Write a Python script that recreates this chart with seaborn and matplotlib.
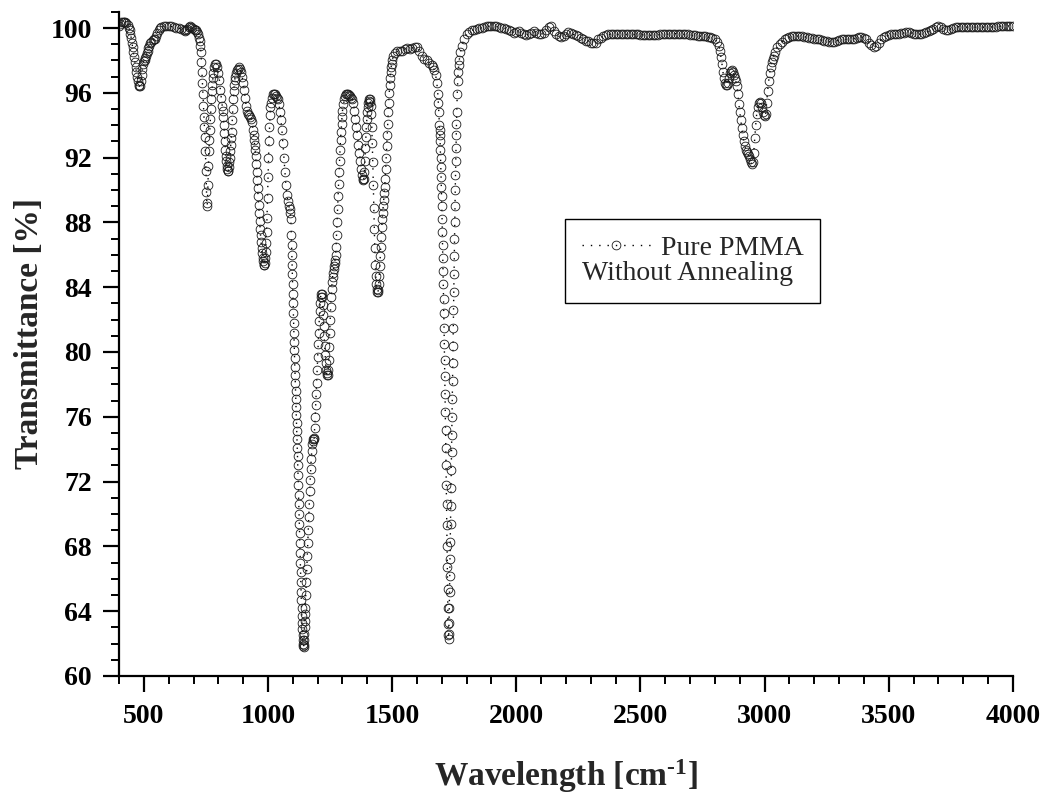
import numpy as np
import pandas as pd
import matplotlib
matplotlib.use("Agg")
import matplotlib.pyplot as plt
from matplotlib.ticker import MultipleLocator
import seaborn as sns

# FTIR spectrum of pure PMMA (no annealing)
# 400-720 cm-1
wn_far = [400, 405, 410, 415, 420, 425, 430, 435, 440, 443, 446, 449, 452, 455,
          458, 461, 464, 467, 470, 473, 476, 479, 482, 485, 488, 491, 494, 497,
          500, 503, 506, 509, 512, 515, 518, 521, 525, 530, 535, 540, 545, 550,
          555, 560, 565, 570, 580, 590, 600, 610, 620, 630, 640, 650, 660, 665,
          670, 675, 680, 685, 690, 695, 700, 705, 710, 715, 720]
t_far = [100.1, 100.25, 100.35, 100.4, 100.4, 100.4, 100.3, 100.2, 100.0, 99.85,
         99.65, 99.4, 99.1, 98.8, 98.5, 98.2, 97.9, 97.6, 97.3, 97.0, 96.7, 96.5,
         96.4, 96.45, 96.7, 97.1, 97.5, 97.8, 97.95, 98.05, 98.15, 98.3, 98.45,
         98.6, 98.75, 98.9, 99.05, 99.15, 99.25, 99.3, 99.35, 99.5, 99.7, 99.85,
         100.0, 100.05, 100.1, 100.1, 100.1, 100.1, 100.05, 100.0, 100.0, 99.95,
         99.85, 99.8, 99.85, 99.95, 100.05, 100.1, 100.05, 100.0, 99.95, 99.9,
         99.85, 99.75, 99.6]

# 724-1500 cm-1 (fingerprint region)
wn_finger = [724, 726, 728, 730, 732, 734, 736, 738, 740, 742, 744, 746, 748, 750,
             752, 754, 756, 758, 760, 762, 764, 766, 768, 770, 772, 774, 776, 778,
             780, 784, 788, 792, 796, 800, 804, 808, 812, 816, 818, 820, 822, 824,
             826, 828, 830, 832, 834, 836, 838, 840, 842, 844, 846, 848, 850, 852,
             854, 856, 858, 860, 862, 864, 866, 868, 872, 876, 880, 884, 888, 892,
             896, 900, 904, 908, 912, 916, 920, 924, 928, 932, 936, 940, 942, 944,
             946, 948, 950, 952, 954, 956, 958, 960, 962, 964, 966, 968, 970, 972,
             974, 976, 978, 980, 982, 984, 986, 988, 990, 992, 994, 996, 998, 1000,
             1002, 1004, 1006, 1008, 1010, 1012, 1016, 1020, 1024, 1028, 1032, 1036,
             1040, 1044, 1048, 1052, 1056, 1060, 1064, 1068, 1072, 1076, 1080, 1084,
             1088, 1090, 1092, 1094,
             1095, 1096, 1097, 1098, 1099, 1100, 1101, 1102, 1103, 1104, 1105, 1106,
             1107, 1108, 1109, 1110, 1111, 1112, 1113, 1114, 1115, 1116, 1117, 1118,
             1119, 1120, 1121, 1122, 1123, 1124, 1125, 1126, 1127, 1128, 1129, 1130,
             1131, 1132, 1133, 1134, 1135, 1136, 1137, 1138, 1139, 1140, 1141, 1142,
             1143, 1144, 1145, 1146, 1147, 1148, 1149, 1150,
             1152, 1154, 1156, 1158, 1160, 1162, 1164, 1166, 1168, 1170, 1172, 1174,
             1176, 1178, 1180, 1182, 1184, 1186, 1188, 1190, 1192, 1194, 1196, 1198,
             1200, 1202, 1204, 1206, 1208, 1210, 1212, 1214, 1216, 1218, 1220, 1222,
             1224, 1226, 1228, 1230, 1232, 1234, 1236, 1238, 1240, 1242, 1244, 1246,
             1248, 1250, 1252, 1254, 1256, 1258, 1260, 1262, 1264, 1266, 1268, 1270,
             1272, 1274, 1276, 1278, 1280, 1282, 1284, 1286, 1288, 1290, 1292, 1294,
             1296, 1298, 1300, 1304, 1308, 1312, 1316, 1320, 1324, 1328, 1332, 1336,
             1340, 1344, 1348, 1352, 1356, 1360, 1364, 1368, 1372, 1376, 1380, 1382,
             1384, 1386, 1388, 1390, 1392, 1394, 1396, 1398, 1400, 1402, 1404, 1406,
             1408, 1410, 1412, 1414, 1416, 1418, 1420, 1422, 1424, 1426, 1428, 1430,
             1432, 1434, 1436, 1438, 1440, 1442, 1444, 1446, 1448, 1450, 1452, 1454,
             1456, 1458, 1460, 1462, 1464, 1466, 1468, 1470, 1472, 1474, 1476, 1478,
             1480, 1482, 1484, 1486, 1488, 1490, 1492, 1494, 1496, 1498, 1500]
t_finger = [99.4, 99.2, 98.9, 98.5, 97.9, 97.3, 96.6, 95.9, 95.2, 94.5, 93.9, 93.3,
            92.4, 91.2, 89.9, 89.0, 89.2, 90.3, 91.5, 92.4, 93.1, 93.7, 94.4, 95.0,
            95.6, 96.1, 96.5, 96.9, 97.2, 97.6, 97.8, 97.8, 97.6, 97.2, 96.8, 96.2,
            95.7, 95.2, 94.9, 94.5, 94.0, 93.5, 93.0, 92.5, 92.1, 91.8, 91.5, 91.3,
            91.2, 91.2, 91.4, 91.7, 92.0, 92.4, 92.8, 93.2, 93.6, 94.3, 95.0, 95.6,
            96.1, 96.5, 96.8, 97.0, 97.2, 97.4, 97.5, 97.6, 97.5, 97.3, 97.0, 96.6,
            96.2, 95.7, 95.2, 94.9, 94.7, 94.6, 94.5, 94.4, 94.2, 93.7, 93.4, 93.1,
            92.8, 92.5, 92.1, 91.6, 91.1, 90.6, 90.1, 89.6, 89.1, 88.6, 88.1, 87.6,
            87.2, 86.8, 86.4, 86.1, 85.8, 85.6, 85.4, 85.4, 85.5, 85.8, 86.2, 86.7,
            87.4, 88.3, 89.5, 90.8, 92.0, 93.0, 93.9, 94.6, 95.1, 95.4, 95.7, 95.9,
            95.9, 95.9, 95.8, 95.7, 95.6, 95.3, 94.8, 94.3, 93.7, 92.9, 92.0, 91.1,
            90.3, 89.7, 89.3, 89.0, 88.8, 88.6, 88.2, 87.2,
            86.6, 86.0, 85.4, 84.8, 84.2, 83.6, 83.0, 82.4, 81.8, 81.2, 80.6, 80.1,
            79.6, 79.1, 78.6, 78.1, 77.6, 77.1, 76.6, 76.1, 75.6, 75.1, 74.6, 74.1,
            73.6, 73.0, 72.4, 71.8, 71.2, 70.6, 70.0, 69.4, 68.8, 68.2, 67.6, 67.0,
            66.4, 65.8, 65.2, 64.7, 64.2, 63.7, 63.3, 62.9, 62.5, 62.2, 62.0, 61.85,
            61.8, 61.9, 62.2, 62.6, 63.0, 63.4, 63.8, 64.2,
            65.0, 65.8, 66.6, 67.4, 68.2, 69.0, 69.8, 70.6, 71.4, 72.1, 72.8, 73.4,
            73.9, 74.3, 74.5, 74.6, 74.6, 74.7, 75.3, 76.0, 76.7, 77.4, 78.1, 78.9,
            79.7, 80.5, 81.2, 81.9, 82.5, 83.0, 83.4, 83.6, 83.6, 83.4, 82.9, 82.3,
            81.6, 81.0, 80.4, 79.8, 79.3, 78.9, 78.7, 78.6, 78.6, 78.9, 79.5, 80.3,
            81.2, 82.0, 82.8, 83.4, 83.9, 84.3, 84.6, 84.9, 85.1, 85.3, 85.5, 85.7,
            86.0, 86.5, 87.2, 88.0, 88.8, 89.6, 90.4, 91.1, 91.8, 92.5, 93.1, 93.6,
            94.1, 94.5, 94.9, 95.3, 95.6, 95.8, 95.9, 95.9, 95.9, 95.85, 95.8, 95.7,
            95.6, 95.4, 94.9, 94.4, 93.9, 93.4, 92.8, 92.3, 91.8, 91.3, 90.9, 90.7,
            90.6, 90.7, 91.1, 91.8, 92.6, 93.3, 93.9, 94.4, 94.8, 95.1, 95.35, 95.5,
            95.6, 95.6, 95.45, 95.2, 94.7, 93.9, 92.9, 91.7, 90.3, 88.9, 87.6, 86.4,
            85.4, 84.7, 84.2, 83.9, 83.7, 83.7, 83.8, 84.2, 84.7, 85.3, 85.9, 86.5,
            87.1, 87.7, 88.2, 88.6, 89.0, 89.4, 89.8, 90.2, 90.7, 91.3, 92.0, 92.7,
            93.4, 94.1, 94.8, 95.4, 96.0, 96.5, 96.9, 97.3, 97.6, 97.8, 98.0]

# 1505-1780 cm-1 (C=O band)
wn_carbonyl = [1505, 1510, 1520, 1530, 1540, 1550, 1560, 1570, 1580, 1590, 1600,
               1610, 1620, 1630, 1640, 1650, 1660, 1665, 1670, 1675, 1680, 1684,
               1686, 1688,
               1690, 1691, 1692, 1693, 1694, 1695, 1696, 1697, 1698, 1699, 1700,
               1701, 1702, 1703, 1704, 1705, 1706, 1707, 1708, 1709, 1710, 1711,
               1712, 1713, 1714, 1715, 1716, 1717, 1718, 1719, 1720, 1721, 1722,
               1723, 1724, 1725, 1726, 1727, 1728, 1729, 1730, 1731, 1732, 1733,
               1734, 1735, 1736, 1737, 1738, 1739, 1740, 1741, 1742, 1743, 1744,
               1745, 1746, 1747, 1748, 1749, 1750, 1751, 1752, 1753, 1754, 1755,
               1756, 1757, 1758, 1759, 1760,
               1762, 1764, 1766, 1768, 1770, 1775, 1780]
t_carbonyl = [98.3, 98.45, 98.55, 98.6, 98.6, 98.7, 98.75, 98.7, 98.75, 98.85, 98.85,
              98.6, 98.3, 98.1, 98.0, 97.85, 97.7, 97.6, 97.4, 97.1, 96.6, 95.9,
              95.4, 94.8,
              94.0, 93.7, 93.4, 93.0, 92.5, 92.0, 91.4, 90.8, 90.2, 89.6, 89.0,
              88.2, 87.4, 86.6, 85.8, 85.0, 84.2, 83.3, 82.4, 81.5, 80.5, 79.5,
              78.5, 77.4, 76.3, 75.2, 74.1, 73.0, 71.8, 70.6, 69.3, 68.0, 66.7,
              65.4, 64.2, 63.2, 62.5, 62.3, 62.6, 63.3, 64.2, 65.2, 66.2, 67.2,
              68.3, 69.4, 70.5, 71.6, 72.7, 73.8, 74.9, 76.0, 77.1, 78.2, 79.3,
              80.4, 81.5, 82.6, 83.7, 84.8, 85.9, 87.0, 88.0, 89.0, 90.0, 90.9,
              91.8, 92.6, 93.4, 94.1, 94.8,
              95.9, 96.7, 97.3, 97.7, 98.0, 98.5, 98.9]

# 1790-2810 cm-1
wn_window = [1790, 1800, 1810, 1820, 1830, 1840, 1850, 1860, 1870, 1880, 1890, 1900,
             1910, 1920, 1930, 1940, 1950, 1960, 1970, 1980, 1990, 2000, 2010, 2020,
             2030, 2040, 2050, 2060, 2070, 2080, 2090, 2100, 2110, 2120, 2130, 2140,
             2150, 2160, 2170, 2180, 2190, 2200, 2210, 2220, 2230, 2240, 2250, 2260,
             2270, 2280, 2290, 2300, 2310, 2320, 2330, 2340, 2350, 2360, 2370, 2380,
             2390, 2400, 2410, 2420, 2430, 2440, 2450, 2460, 2470, 2480, 2490, 2500,
             2510, 2520, 2530, 2540, 2550, 2560, 2570, 2580, 2590, 2600, 2610, 2620,
             2630, 2640, 2650, 2660, 2670, 2680, 2690, 2700, 2710, 2720, 2730, 2740,
             2750, 2760, 2770, 2780, 2790, 2800, 2810]
t_window = [99.3, 99.6, 99.75, 99.85, 99.9, 99.95, 100.0, 100.0, 100.05, 100.1, 100.1,
            100.1, 100.1, 100.1, 100.05, 100.0, 100.0, 99.95, 99.9, 99.8, 99.7, 99.75,
            99.8, 99.7, 99.6, 99.55, 99.65, 99.7, 99.8, 99.7, 99.6, 99.6, 99.7, 99.9,
            100.05, 100.1, 99.8, 99.6, 99.5, 99.45, 99.5, 99.6, 99.75, 99.7, 99.6,
            99.55, 99.5, 99.4, 99.3, 99.2, 99.2, 99.1, 99.05, 99.1, 99.3, 99.4, 99.5,
            99.55, 99.6, 99.6, 99.6, 99.65, 99.6, 99.6, 99.6, 99.6, 99.6, 99.65, 99.6,
            99.6, 99.6, 99.58, 99.58, 99.58, 99.58, 99.55, 99.55, 99.58, 99.58, 99.6,
            99.6, 99.62, 99.62, 99.62, 99.62, 99.65, 99.65, 99.65, 99.62, 99.6, 99.6,
            99.58, 99.55, 99.55, 99.52, 99.5, 99.5, 99.48, 99.45, 99.42, 99.38, 99.3,
            99.15]

# 2816-4000 cm-1 (C-H stretch and beyond)
wn_ch = [2816, 2820, 2824, 2828, 2832, 2836, 2840, 2844, 2848, 2852, 2856, 2860,
         2864, 2868, 2872, 2876, 2880, 2884, 2888, 2892, 2896, 2900, 2904, 2908,
         2912, 2916, 2920, 2924, 2928, 2932, 2936, 2940, 2944, 2948, 2952, 2956,
         2960, 2964, 2968, 2972, 2976, 2980, 2984, 2988, 2992, 2996, 3000, 3004,
         3008, 3012, 3016, 3020, 3024, 3028, 3032, 3036, 3040, 3050, 3060, 3070,
         3080, 3090, 3100, 3110, 3120, 3130, 3140, 3150, 3160, 3170, 3180, 3190,
         3200, 3210, 3220, 3230, 3240, 3250, 3260, 3270, 3280, 3290, 3300, 3310,
         3320, 3330, 3340, 3350, 3360, 3370, 3380, 3390, 3400, 3410, 3420, 3430,
         3440, 3450, 3460, 3470, 3480, 3490, 3500, 3510, 3520, 3530, 3540, 3550,
         3560, 3570, 3580, 3590, 3600, 3610, 3620, 3630, 3640, 3650, 3660, 3670,
         3680, 3690, 3700, 3710, 3720, 3730, 3740, 3750, 3760, 3770, 3780, 3790,
         3800, 3810, 3820, 3830, 3840, 3850, 3860, 3870, 3880, 3890, 3900, 3910,
         3920, 3930, 3940, 3950, 3960, 3970, 3980, 3990, 4000]
t_ch = [98.9, 98.6, 98.2, 97.8, 97.3, 96.9, 96.6, 96.5, 96.5, 96.6, 96.9, 97.2,
        97.35, 97.4, 97.3, 97.1, 96.9, 96.7, 96.4, 95.9, 95.3, 94.8, 94.3, 93.8,
        93.4, 93.0, 92.7, 92.5, 92.35, 92.25, 92.1, 91.9, 91.7, 91.6, 91.7, 92.3,
        93.2, 94.0, 94.7, 95.1, 95.35, 95.45, 95.4, 95.1, 94.8, 94.6, 94.55, 94.7,
        95.4, 96.1, 96.7, 97.2, 97.6, 97.9, 98.1, 98.3, 98.5, 98.8, 99.0, 99.15,
        99.3, 99.4, 99.45, 99.5, 99.5, 99.5, 99.5, 99.5, 99.45, 99.45, 99.4, 99.4,
        99.35, 99.35, 99.3, 99.25, 99.2, 99.2, 99.15, 99.15, 99.15, 99.2, 99.25, 99.3,
        99.3, 99.3, 99.3, 99.35, 99.35, 99.4, 99.45, 99.45, 99.4, 99.3, 99.1, 98.95,
        98.85, 98.9, 99.1, 99.3, 99.45, 99.5, 99.55, 99.6, 99.6, 99.65, 99.65, 99.7,
        99.7, 99.75, 99.75, 99.7, 99.65, 99.6, 99.6, 99.65, 99.7, 99.75, 99.8, 99.85,
        99.95, 100.05, 100.1, 100.05, 99.95, 99.9, 99.9, 99.95, 100.0, 100.05, 100.08,
        100.05, 100.05, 100.05, 100.05, 100.05, 100.05, 100.05, 100.05, 100.05,
        100.05, 100.05, 100.05, 100.05, 100.08, 100.08, 100.1, 100.1, 100.1, 100.1,
        100.12, 100.15, 100.15]

df = pd.DataFrame({
    "wavenumber": wn_far + wn_finger + wn_carbonyl + wn_window + wn_ch,
    "transmittance": t_far + t_finger + t_carbonyl + t_window + t_ch,
})

sns.set_style("ticks")
plt.rcParams["font.family"] = ["Liberation Serif", "DejaVu Serif"]
plt.rcParams["font.weight"] = "bold"
plt.rcParams["mathtext.fontset"] = "custom"
plt.rcParams["mathtext.rm"] = "Liberation Serif:bold"
plt.rcParams["mathtext.bf"] = "Liberation Serif:bold"
plt.rcParams["mathtext.default"] = "bf"

fig = plt.figure(figsize=(10.43, 7.98), dpi=100, facecolor="white")
ax = fig.add_axes([0.1141, 0.1529, 0.8571, 0.8323])

sns.lineplot(data=df, x="wavenumber", y="transmittance", ax=ax,
             estimator=None, sort=False, color="black",
             linestyle=(0, (1, 5)), linewidth=1.0,
             marker="o", markersize=6.3, markerfacecolor="none",
             markeredgecolor="#1a1a1a", markeredgewidth=0.6,
             label="Pure PMMA")

ax.set_xlim(400, 4000)
ax.set_ylim(60, 101)
ax.xaxis.set_major_locator(MultipleLocator(500))
ax.xaxis.set_minor_locator(MultipleLocator(100))
ax.yaxis.set_major_locator(MultipleLocator(4))
ax.yaxis.set_minor_locator(MultipleLocator(1))

for side in ("top", "right"):
    ax.spines[side].set_visible(False)
for side in ("left", "bottom"):
    ax.spines[side].set_linewidth(1.6)
    ax.spines[side].set_color("black")

ax.tick_params(which="major", direction="out", length=11.5, width=1.6,
               labelsize=20, colors="black")
ax.tick_params(which="minor", direction="out", length=6, width=1.4,
               colors="black")
ax.tick_params(axis="x", which="major", pad=9)
ax.tick_params(axis="y", which="major", pad=8)

ax.set_xlabel("Wavelength [cm$^{\\text{-1}}$]", fontsize=24, fontweight="bold",
              labelpad=20)
ax.set_ylabel("Transmittance [%]", fontsize=24, fontweight="bold")
ax.yaxis.set_label_coords(-0.083, 0.516)

handles, labels = ax.get_legend_handles_labels()
leg = ax.legend(handles[:1], labels[:1], loc="upper left",
                bbox_to_anchor=(0.499, 0.688), borderaxespad=0,
                title="Without Annealing", alignment="left",
                prop={"size": 20, "weight": "normal"},
                title_fontproperties={"size": 20, "weight": "normal"},
                frameon=True, fancybox=False, shadow=False,
                edgecolor="black", framealpha=1,
                handlelength=2.5, handletextpad=0.35,
                borderpad=0.6, labelspacing=0.0)
leg.get_frame().set_linewidth(1.0)
# entry first, "Without Annealing" underneath it
leg._legend_box._children.reverse()

fig.savefig("out.png", dpi=100, facecolor="white")
